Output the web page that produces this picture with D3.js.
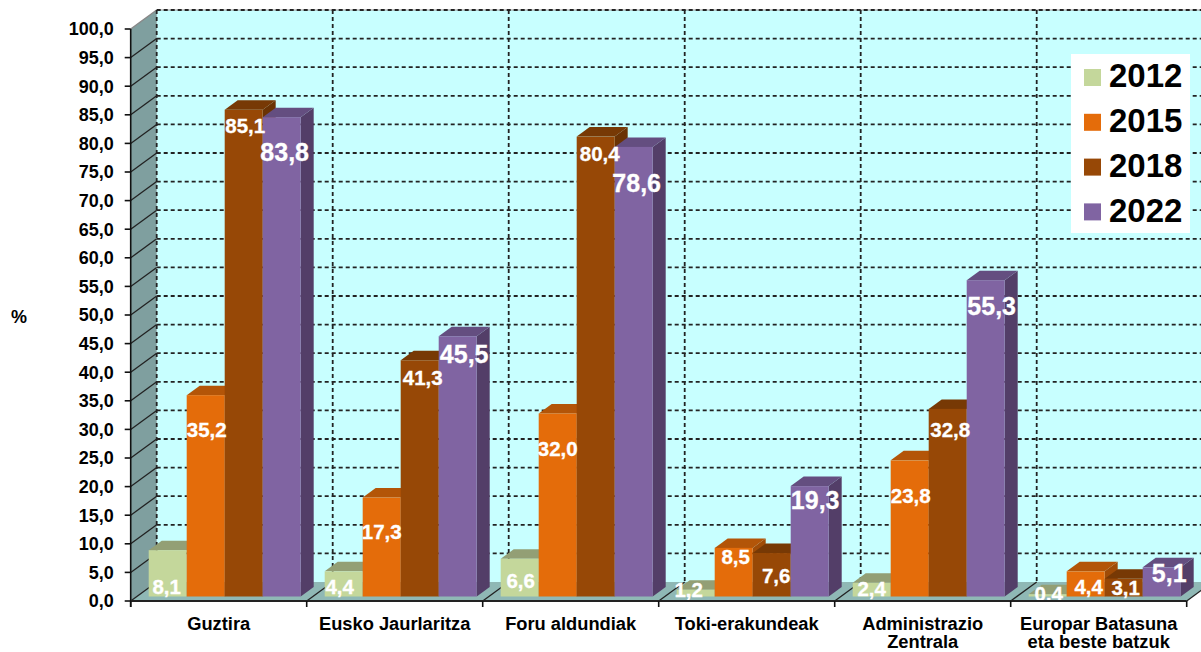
<!DOCTYPE html>
<html>
<head>
	<meta charset="UTF-8">
	<title>Guztira chart</title>
	<script src="https://cdn.jsdelivr.net/npm/d3@7"></script>
	<style>
	html, body { margin: 0; padding: 0; background: #fff; }
	svg { display: block; }
	text { font-family: "Liberation Sans", Arial, sans-serif; font-weight: bold; }
	.tick-label { font-size: 18px; fill: #000; }
	.bar-label { fill: #fff; stroke: #fff; stroke-width: 0.3px; }
	.grid { stroke: #222; stroke-width: 1.8px; stroke-dasharray: 4 3; fill: none; }
	</style>
</head>
<body>
<svg width="1201" height="652"></svg>
<script>
var categories = [["Guztira"], ["Eusko Jaurlaritza"], ["Foru aldundiak"], ["Toki-erakundeak"], ["Administrazio", "Zentrala"], ["Europar Batasuna", "eta beste batzuk"]];
var years = ["2012", "2015", "2018", "2022"];
var values2012 = [8.1, 4.4, 6.6, 1.2, 2.4, 0.4];
var values2015 = [35.2, 17.3, 32.0, 8.5, 23.8, 4.4];
var values2018 = [85.1, 41.3, 80.4, 7.6, 32.8, 3.1];
var values2022 = [83.8, 45.5, 78.6, 19.3, 55.3, 5.1];
var series = [values2012, values2015, values2018, values2022];
var yTicks = d3.range(0, 101, 5);

var colors = ["#c4d79b", "#e46c0a", "#974806", "#8064a2"];
var topColors = ["#939f75", "#b35508", "#773905", "#644e80"];
var sideColors = ["#838f68", "#a04c07", "#6a3304", "#533e68"];

// labels were hand placed in the original: pixels below the bar top, pixels right of bar centre
var labelDrop = [
	[36, 34, 16, 35],
	[15, 34, 17, 18],
	[22, 35, 17, 36],
	[0, 9, 23, 14],
	[6, 35, 21, 26],
	[-1, 15, 9, 6]
];
var labelShift = [
	[-1, 1, 1.5, 3],
	[-4, 0, 3, 6.5],
	[1, 0, 4, 3],
	[-7, 2, 4.5, 5.5],
	[0, 1, 2.5, 6],
	[1, 3, 2, 7.5]
];

var svg = d3.select("svg");
var plotLeft = 130.7, plotRight = 1186.7, plotTop = 29, plotBottom = 601;
var depthX = 26, depthY = -19; // depth of the whole plot box
var barDepthX = 13, barDepthY = -9.5;
var barFrontX = 6, barFrontY = -4.5;

var y = d3.scaleLinear().domain([0, 100]).range([plotBottom, plotTop]);
var x = d3.scaleBand().domain(d3.range(categories.length)).range([plotLeft, plotRight]);
var xBar = d3.scaleBand().domain(years).range([12, 164]);

function poly(pts) { return pts.map(function (p) { return p.join(","); }).join(" "); }

// walls and floor
svg.append("polygon").attr("points", poly([[plotLeft + depthX, plotTop + depthY], [1201, plotTop + depthY], [1201, plotBottom + depthY], [plotLeft + depthX, plotBottom + depthY]])).attr("fill", "#c8ffff");
svg.append("polygon").attr("points", poly([[plotLeft, plotTop], [plotLeft + depthX, plotTop + depthY], [plotLeft + depthX, plotBottom + depthY], [plotLeft, plotBottom]])).attr("fill", "#7f9f9f");
svg.append("polygon").attr("points", poly([[plotLeft, plotBottom], [plotRight, plotBottom], [plotRight + depthX, plotBottom + depthY], [plotLeft + depthX, plotBottom + depthY]])).attr("fill", "#8fb8b5");
svg.append("line").attr("x1", plotLeft).attr("y1", plotTop).attr("x2", plotLeft + depthX).attr("y2", plotTop + depthY).attr("stroke", "#888").attr("stroke-width", 1.5);
svg.append("line").attr("x1", plotLeft + depthX).attr("y1", plotTop + depthY).attr("x2", 1201).attr("y2", plotTop + depthY).attr("stroke", "#999").attr("stroke-width", 1);

// grid on back wall and side wall
svg.selectAll(".hgrid").data(yTicks.slice(1)).enter().append("line")
	.attr("class", "grid hgrid")
	.attr("x1", plotLeft + depthX).attr("x2", 1201)
	.attr("y1", function (d) { return y(d) + depthY; })
	.attr("y2", function (d) { return y(d) + depthY; });
svg.selectAll(".vgrid").data(d3.range(categories.length)).enter().append("line")
	.attr("class", "grid vgrid")
	.attr("x1", function (d) { return x(d) + depthX; })
	.attr("x2", function (d) { return x(d) + depthX; })
	.attr("y1", plotTop + depthY).attr("y2", plotBottom + depthY);
svg.selectAll(".wallline").data(yTicks.slice(1, -1)).enter().append("line")
	.attr("x1", plotLeft).attr("x2", plotLeft + depthX)
	.attr("y1", function (d) { return y(d); })
	.attr("y2", function (d) { return y(d) + depthY; })
	.attr("stroke", "#222").attr("stroke-width", 1.3);
svg.selectAll(".floorline").data(d3.range(categories.length + 1)).enter().append("line")
	.attr("x1", function (d) { return plotLeft + d * x.bandwidth(); })
	.attr("x2", function (d) { return plotLeft + d * x.bandwidth() + depthX; })
	.attr("y1", plotBottom).attr("y2", plotBottom + depthY)
	.attr("stroke", "#222").attr("stroke-width", 1.3);

// bars, left to right so each one covers the side of the previous
categories.forEach(function (c, i) {
	years.forEach(function (yr, s) {
		var v = series[s][i];
		var x0 = x(i) + xBar(yr) + barFrontX, x1 = x0 + xBar.bandwidth();
		var y0 = y(0) + barFrontY, y1 = y(v) + barFrontY;
		var g = svg.append("g");
		g.append("polygon").attr("points", poly([[x1, y1], [x1 + barDepthX, y1 + barDepthY], [x1 + barDepthX, y0 + barDepthY], [x1, y0]])).attr("fill", sideColors[s]);
		g.append("polygon").attr("points", poly([[x0, y1], [x0 + barDepthX, y1 + barDepthY], [x1 + barDepthX, y1 + barDepthY], [x1, y1]])).attr("fill", topColors[s]);
		g.append("rect").attr("x", x0).attr("y", y1).attr("width", x1 - x0).attr("height", y0 - y1).attr("fill", colors[s]);
	});
});

// data labels on top of all bars
categories.forEach(function (c, i) {
	years.forEach(function (yr, s) {
		var v = series[s][i];
		var x0 = x(i) + xBar(yr) + barFrontX;
		svg.append("text").attr("class", "bar-label")
			.attr("x", x0 + xBar.bandwidth() / 2 + labelShift[i][s])
			.attr("y", y(v) + barFrontY + labelDrop[i][s])
			.attr("dy", "0.36em")
			.attr("text-anchor", "middle")
			.style("font-size", s == 3 ? "25px" : "20.5px")
			.text(v.toFixed(1).replace(".", ","));
	});
});

// value axis
svg.append("line").attr("x1", plotLeft).attr("x2", plotLeft).attr("y1", plotTop).attr("y2", plotBottom + 6).attr("stroke", "#111").attr("stroke-width", 1.6);
svg.selectAll(".ytick").data(yTicks).enter().append("line")
	.attr("x1", plotLeft - 6).attr("x2", plotLeft)
	.attr("y1", function (d) { return y(d); })
	.attr("y2", function (d) { return y(d); })
	.attr("stroke", "#111").attr("stroke-width", 1.6);
svg.selectAll(".ylabel").data(yTicks).enter().append("text")
	.attr("class", "tick-label")
	.attr("x", plotLeft - 17)
	.attr("y", function (d) { return y(d); })
	.attr("dy", "0.36em")
	.attr("text-anchor", "end")
	.text(function (d) { return d.toFixed(1).replace(".", ","); });
svg.append("text").attr("class", "tick-label").attr("x", 19).attr("y", 317).attr("dy", "0.36em").attr("text-anchor", "middle").text("%");

// category axis
svg.append("line").attr("x1", plotLeft).attr("x2", plotRight).attr("y1", plotBottom).attr("y2", plotBottom).attr("stroke", "#222").attr("stroke-width", 2);
svg.selectAll(".xtick").data(d3.range(categories.length + 1)).enter().append("line")
	.attr("x1", function (d) { return plotLeft + d * x.bandwidth(); })
	.attr("x2", function (d) { return plotLeft + d * x.bandwidth(); })
	.attr("y1", plotBottom).attr("y2", plotBottom + 6)
	.attr("stroke", "#111").attr("stroke-width", 1.6);
categories.forEach(function (lines, i) {
	lines.forEach(function (t, j) {
		svg.append("text").attr("class", "tick-label")
			.attr("x", x(i) + x.bandwidth() / 2)
			.attr("y", 623 + j * 18.7)
			.attr("dy", "0.36em")
			.attr("text-anchor", "middle")
			.style("font-size", "18.3px")
			.text(t);
	});
});

// legend
var legend = svg.append("g");
legend.append("rect").attr("x", 1071).attr("y", 54).attr("width", 119).attr("height", 179).attr("fill", "#fff");
years.forEach(function (yr, s) {
	legend.append("rect").attr("x", 1084).attr("y", 69 + s * 44.8).attr("width", 17).attr("height", 17).attr("fill", colors[s]);
	legend.append("text").attr("x", 1109).attr("y", 87 + s * 45).style("font-size", "33px").attr("fill", "#000").text(yr);
});
</script>
</body>
</html>
